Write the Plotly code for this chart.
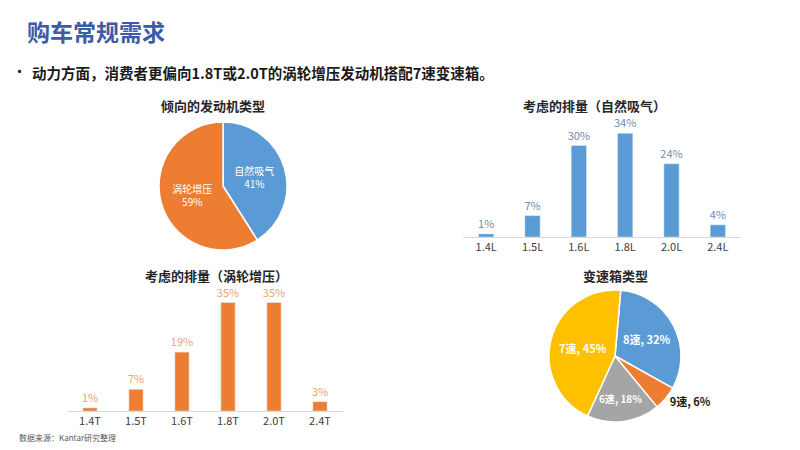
import plotly.graph_objects as go

# engine type preference (pie)
engine_labels = ['自然吸气', '涡轮增压']
engine_share = [41, 59]

# naturally aspirated displacement (bar)
na_disp = ['1.4L', '1.5L', '1.6L', '1.8L', '2.0L', '2.4L']
na_share = [1, 7, 30, 34, 24, 4]

# turbo displacement (bar)
turbo_disp = ['1.4T', '1.5T', '1.6T', '1.8T', '2.0T', '2.4T']
turbo_share = [1, 7, 19, 35, 35, 3]

# gearbox type (pie)
gear_labels = ['8速', '9速', '6速', '7速']
gear_share = [32, 6, 18, 45]

# page body has an 8px default margin, so the figure is shrunk and shifted
OFF = 8
W, H = 800 - OFF, 450 - OFF
BLUE = '#5b9bd5'
ORANGE = '#ed7d31'
GRAY = '#a5a5a5'
YELLOW = '#ffc000'
FONT = 'Noto Sans CJK SC'


def px(x):
    return (x - OFF) / W


def py(y):
    return 1 - (y - OFF) / H


fig = go.Figure()

fig.add_trace(go.Pie(
    labels=engine_labels, values=engine_share,
    sort=False, direction='clockwise', rotation=0,
    marker=dict(colors=[BLUE, ORANGE], line=dict(color='white', width=1.5)),
    texttemplate='%{label}<br>%{value}%', textposition='inside',
    insidetextorientation='horizontal',
    textfont=dict(color='white', size=10, family=FONT),
    domain=dict(x=[px(159), px(287)], y=[py(250), py(122)]),
    showlegend=False, hoverinfo='skip',
))

fig.add_trace(go.Pie(
    labels=gear_labels, values=gear_share,
    sort=False, direction='clockwise', rotation=5,
    marker=dict(colors=[BLUE, ORANGE, GRAY, YELLOW], line=dict(color='white', width=1.5)),
    texttemplate=['<b>%{label}, %{value}%</b>'] * 4,
    textposition=['inside', 'outside', 'inside', 'inside'],
    insidetextorientation='horizontal',
    insidetextfont=dict(color='white', size=11, family=FONT),
    outsidetextfont=dict(color='#1a1a1a', size=11, family=FONT),
    domain=dict(x=[px(549), px(681)], y=[py(422), py(290)]),
    showlegend=False, hoverinfo='skip',
))

fig.add_trace(go.Bar(
    x=na_disp, y=na_share, marker_color=BLUE, width=0.33,
    text=[f'{v}%' for v in na_share], textposition='outside', constraintext='none',
    textfont=dict(color='#6d8cb4', size=11, family=FONT),
    cliponaxis=False, xaxis='x', yaxis='y', showlegend=False, hoverinfo='skip',
))

fig.add_trace(go.Bar(
    x=turbo_disp, y=turbo_share, marker_color=ORANGE, width=0.31,
    text=[f'{v}%' for v in turbo_share], textposition='outside', constraintext='none',
    textfont=dict(color='#e9a872', size=11, family=FONT),
    cliponaxis=False, xaxis='x2', yaxis='y2', showlegend=False, hoverinfo='skip',
))

axis_common = dict(showgrid=False, zeroline=False, fixedrange=True)
fig.update_layout(
    width=W, height=H,
    margin=dict(l=0, r=0, t=0, b=0),
    paper_bgcolor='white', plot_bgcolor='white',
    font=dict(family=FONT, color='#404040'),
    xaxis=dict(domain=[px(463), px(741)], anchor='y', showline=True, linecolor='#d9d9d9',
               ticks='', tickfont=dict(size=11, color='#404040'), **axis_common),
    yaxis=dict(domain=[py(237), py(115)], range=[0, 40], visible=False, anchor='x', **axis_common),
    xaxis2=dict(domain=[px(67), px(343)], anchor='y2', showline=True, linecolor='#d9d9d9',
                ticks='', tickfont=dict(size=11, color='#404040'), **axis_common),
    yaxis2=dict(domain=[py(411), py(287)], range=[0, 40], visible=False, anchor='x2', **axis_common),
)

titles = [
    ('倾向的发动机类型', 213, 105),
    ('考虑的排量（自然吸气）', 594, 105),
    ('考虑的排量（涡轮增压）', 216, 275),
    ('变速箱类型', 615, 275),
]
for text, x, y in titles:
    fig.add_annotation(text=f'<b>{text}</b>', x=px(x), y=py(y), xref='paper', yref='paper',
                       xanchor='center', yanchor='middle', showarrow=False,
                       font=dict(size=13, color='#262626', family=FONT))

fig.add_annotation(text='<b>购车常规需求</b>', x=px(25), y=py(31), xref='paper', yref='paper',
                   xanchor='left', yanchor='middle', showarrow=False,
                   font=dict(size=23, color='#3d5ca8', family=FONT))
fig.add_annotation(text='•', x=px(10), y=py(71), xref='paper', yref='paper',
                   xanchor='left', yanchor='middle', showarrow=False,
                   font=dict(size=15, color='#1a1a1a', family=FONT))
fig.add_annotation(text='<b>动力方面，消费者更偏向1.8T或2.0T的涡轮增压发动机搭配7速变速箱。</b>',
                   x=px(30), y=py(72), xref='paper', yref='paper',
                   xanchor='left', yanchor='middle', showarrow=False,
                   font=dict(size=14.5, color='#1a1a1a', family=FONT))
fig.add_annotation(text='数据来源：Kantar研究整理', x=px(17), y=py(437), xref='paper', yref='paper',
                   xanchor='left', yanchor='middle', showarrow=False,
                   font=dict(size=8, color='#595959', family=FONT))

fig.write_html('out.html')
